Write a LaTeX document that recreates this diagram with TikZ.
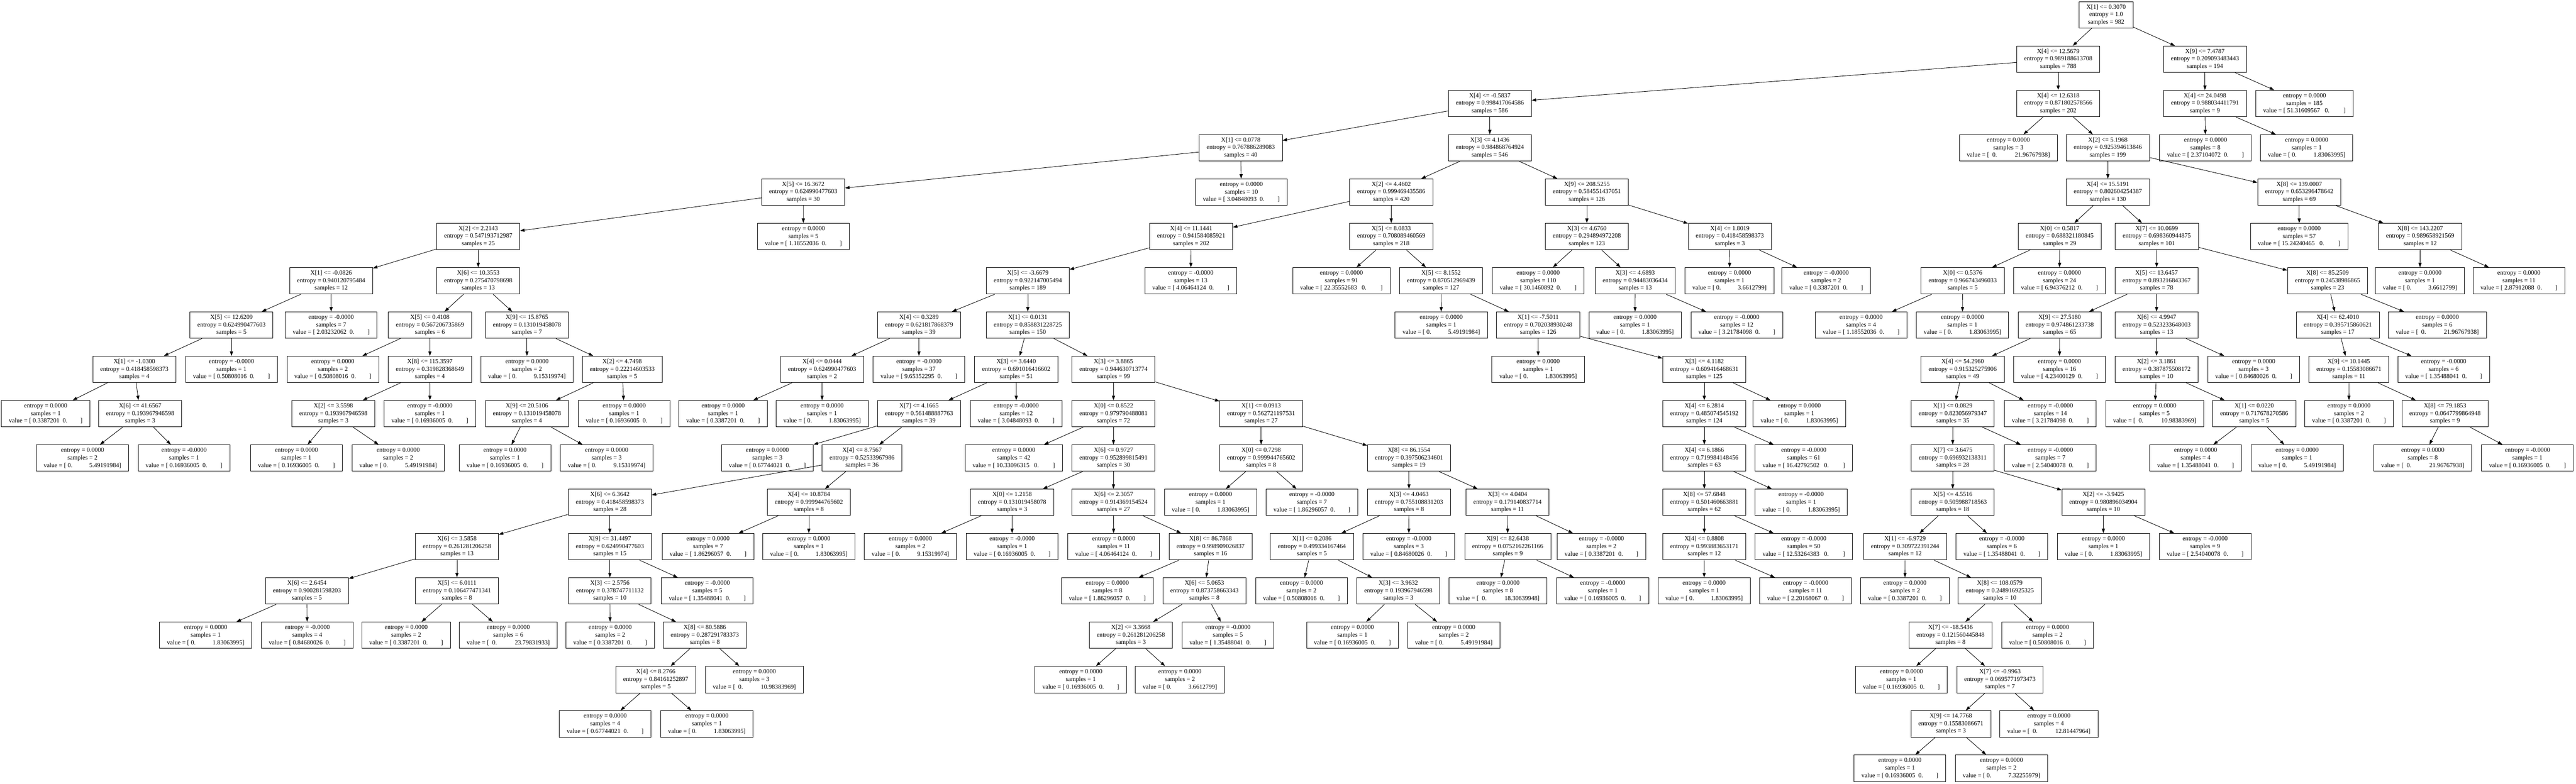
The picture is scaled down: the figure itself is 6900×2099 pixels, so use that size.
\documentclass[tikz,border=0pt]{standalone}
\usepackage{fontspec}
\setmainfont{Liberation Serif}
\usetikzlibrary{arrows.meta}
\newcommand\va[1]{value = [ #1\hspace{0.5em}0.\hspace{2.1em}]}
\newcommand\vaa[1]{value = [ #1\hspace{0.75em}0.\hspace{2.25em}]}
\newcommand\vb[1]{value = [ 0.\hspace{2.7em}#1]}
\newcommand\vbb[1]{value = [\hspace{0.5em}0.\hspace{2.85em}#1]}
\newcommand\tnI[7]{\node[tn] (#1) at (#2,#3) {X[#4] <= #5\\entropy = #6\\samples = #7};}
\newcommand\tnL[6]{\node[tn] (#1) at (#2,#3) {entropy = #4\\samples = #5\\#6};}
\tikzset{
  tn/.style={draw, line width=1.2pt, minimum height=71pt, inner xsep=20pt, inner ysep=0pt,
    align=center, font=\fontsize{16.8}{20.2}\selectfont},
  arr/.style={-{Triangle[length=12pt,width=8.4pt]}, line width=1.2pt}
}
\begin{document}
\begin{tikzpicture}[x=1pt,y=-1pt]
\fill[white] (0,0) rectangle (6900,2099);
\useasboundingbox (0,0) rectangle (6900,2099);
% row 0
\node[tn] (r0) at (5641.5,40) {X[1] <= 0.3070\\entropy = 1.0\\samples = 982};
% row 1
\tnI{a1}{5513}{158.7}{4}{12.5679}{0.989188613708}{788}
\tnI{b1}{5906}{158.7}{9}{7.4787}{0.209093483443}{194}
% row 2
\tnI{a2}{3990.5}{277.4}{4}{-0.5837}{0.998417064586}{586}
\tnI{b2}{5513}{277.4}{4}{12.6318}{0.871802578566}{202}
\tnI{c2}{5906}{277.4}{4}{24.0498}{0.988034411791}{9}
\tnL{d2}{6172.5}{277.4}{0.0000}{185}{\vaa{51.31609567}}
% row 3
\tnI{a3}{3323.5}{396.1}{1}{0.0778}{0.767886289083}{40}
\tnI{b3}{3990.5}{396.1}{3}{4.1436}{0.984868764924}{546}
\tnL{c3}{5379.5}{396.1}{0.0000}{3}{\vbb{21.96767938}}
\tnI{d3}{5646}{396.1}{2}{5.1968}{0.925394613846}{199}
\tnL{e3}{5907.5}{396.1}{0.0000}{8}{\va{2.37104072}}
\tnL{f3}{6178.5}{396.1}{0.0000}{1}{\vb{1.83063995}}
% row 4
\tnI{a4}{2151.5}{514.8}{5}{16.3672}{0.624990477603}{30}
\tnL{b4}{3325}{514.8}{0.0000}{10}{\va{3.04848093}}
\tnI{c4}{3726.5}{514.8}{2}{4.4602}{0.999469435586}{420}
\tnI{d4}{4250.5}{514.8}{9}{208.5255}{0.584551437051}{126}
\tnI{e4}{5646}{514.8}{4}{15.5191}{0.802604254387}{130}
\tnI{f4}{6158.5}{514.8}{8}{139.0007}{0.653296478642}{69}
% row 5
\tnI{a5}{1281}{633.5}{2}{2.2143}{0.547193712987}{25}
\tnL{b5}{2152}{633.5}{0.0000}{5}{\va{1.18552036}}
\tnI{c5}{3190.5}{633.5}{4}{11.1441}{0.941584085921}{202}
\tnI{d5}{3726.5}{633.5}{5}{8.0833}{0.708089460569}{218}
\tnI{e5}{4250.5}{633.5}{3}{4.6760}{0.294894972208}{123}
\tnI{f5}{4633.5}{633.5}{4}{1.8019}{0.418458598373}{3}
\tnI{g5}{5517}{633.5}{0}{0.5817}{0.688321180845}{29}
\tnI{h5}{5777}{633.5}{7}{10.0699}{0.698360944875}{101}
\tnL{i5}{6158.5}{633.5}{0.0000}{57}{\vaa{15.24240465}}
\tnI{j5}{6482.5}{633.5}{8}{143.2207}{0.989658921569}{12}
% row 6
\tnI{a6}{887}{752.2}{1}{-0.0826}{0.940120795484}{12}
\tnI{b6}{1281}{752.2}{6}{10.3553}{0.275470798698}{13}
\tnI{c6}{2753}{752.2}{5}{-3.6679}{0.922147005494}{189}
\tnL{d6}{3189.5}{752.2}{-0.0000}{13}{\va{4.06464124}}
\tnL{e6}{3593}{752.2}{0.0000}{91}{\vaa{22.35552683}}
\tnI{f6}{3860}{752.2}{5}{8.1552}{0.870512969439}{127}
\tnL{g6}{4120}{752.2}{0.0000}{110}{\va{30.1460892}}
\tnI{h6}{4380}{752.2}{3}{4.6893}{0.94483036434}{13}
\tnL{i6}{4632.5}{752.2}{0.0000}{1}{\vb{3.6612799}}
\tnL{j6}{4891.5}{752.2}{-0.0000}{2}{\va{0.3387201}}
\tnI{k6}{5257}{752.2}{0}{0.5376}{0.966743496033}{5}
\tnL{l6}{5516.5}{752.2}{0.0000}{24}{\va{6.94376212}}
\tnI{m6}{5776.5}{752.2}{5}{13.6457}{0.893216843367}{78}
\tnI{n6}{6234.5}{752.2}{8}{85.2509}{0.24538986865}{23}
\tnL{o6}{6482}{752.2}{0.0000}{1}{\vb{3.6612799}}
\tnL{p6}{6747}{752.2}{0.0000}{11}{\va{2.87912088}}
% row 7
\tnI{a7}{620}{870.9}{5}{12.6209}{0.624990477603}{5}
\tnL{b7}{887}{870.9}{-0.0000}{7}{\va{2.03232062}}
\tnI{c7}{1151.5}{870.9}{5}{0.4108}{0.567206735869}{6}
\tnI{d7}{1411.5}{870.9}{9}{15.8765}{0.131019458078}{7}
\tnI{e7}{2461.5}{870.9}{4}{0.3289}{0.621817868379}{39}
\tnI{f7}{2753}{870.9}{1}{0.0131}{0.858831228725}{150}
\tnL{g7}{3860.5}{870.9}{0.0000}{1}{\vb{5.49191984}}
\tnI{h7}{4120}{870.9}{1}{-7.5011}{0.702038930248}{126}
\tnL{i7}{4379.5}{870.9}{0.0000}{1}{\vb{1.83063995}}
\tnL{j7}{4652}{870.9}{-0.0000}{12}{\va{3.21784098}}
\tnL{k7}{4985}{870.9}{0.0000}{4}{\va{1.18552036}}
\tnL{l7}{5256.5}{870.9}{0.0000}{1}{\vb{1.83063995}}
\tnI{m7}{5517}{870.9}{9}{27.5180}{0.974861233738}{65}
\tnI{n7}{5776.5}{870.9}{6}{4.9947}{0.523233648003}{13}
\tnI{o7}{6262}{870.9}{4}{62.4010}{0.395715860621}{17}
\tnL{p7}{6528.5}{870.9}{0.0000}{6}{\vbb{21.96767938}}
% row 8
\tnI{a8}{360}{989.6}{1}{-1.0300}{0.418458598373}{4}
\tnL{b8}{620}{989.6}{-0.0000}{1}{\va{0.50808016}}
\tnL{c8}{891.5}{989.6}{0.0000}{2}{\va{0.50808016}}
\tnI{d8}{1151.5}{989.6}{8}{115.3597}{0.319828368649}{4}
\tnL{e8}{1411.5}{989.6}{0.0000}{2}{\vb{9.15319974}}
\tnI{f8}{1666.5}{989.6}{2}{4.7498}{0.22214603533}{5}
\tnI{g8}{2202}{989.6}{4}{0.0444}{0.624990477603}{2}
\tnL{h8}{2461.5}{989.6}{-0.0000}{37}{\va{9.65352295}}
\tnI{i8}{2722}{989.6}{3}{3.6440}{0.691016416602}{51}
\tnI{j8}{2982.5}{989.6}{3}{3.8865}{0.944630713774}{99}
\tnL{k8}{4120}{989.6}{0.0000}{1}{\vb{1.83063995}}
\tnI{l8}{4565}{989.6}{3}{4.1182}{0.609416468631}{125}
\tnI{m8}{5257}{989.6}{4}{54.2960}{0.915325275906}{49}
\tnL{n8}{5516.5}{989.6}{0.0000}{16}{\va{4.23400129}}
\tnI{o8}{5776.5}{989.6}{2}{3.1861}{0.387875508172}{10}
\tnL{p8}{6036.5}{989.6}{0.0000}{3}{\va{0.84680026}}
\tnI{q8}{6291.5}{989.6}{9}{10.1445}{0.15583086671}{11}
\tnL{r8}{6545.5}{989.6}{-0.0000}{6}{\va{1.35488041}}
% row 9
\tnL{a9}{122.5}{1108.3}{0.0000}{1}{\va{0.3387201}}
\tnI{b9}{375.5}{1108.3}{6}{41.6567}{0.193967946598}{3}
\tnI{c9}{893}{1108.3}{2}{3.5598}{0.193967946598}{3}
\tnL{d9}{1151.5}{1108.3}{-0.0000}{1}{\va{0.16936005}}
\tnI{e9}{1411.5}{1108.3}{9}{20.5106}{0.131019458078}{4}
\tnL{f9}{1672}{1108.3}{0.0000}{1}{\va{0.16936005}}
\tnL{g9}{1937}{1108.3}{0.0000}{1}{\va{0.3387201}}
\tnL{h9}{2202}{1108.3}{0.0000}{1}{\vb{1.83063995}}
\tnI{i9}{2461.5}{1108.3}{7}{4.1665}{0.561488887763}{39}
\tnL{j9}{2722}{1108.3}{-0.0000}{12}{\va{3.04848093}}
\tnI{k9}{2982.5}{1108.3}{0}{0.8522}{0.979790488081}{72}
\tnI{l9}{3378}{1108.3}{1}{0.0913}{0.562721197531}{27}
\tnI{m9}{4565}{1108.3}{4}{6.2814}{0.485074545192}{124}
\tnL{n9}{4819.5}{1108.3}{0.0000}{1}{\vb{1.83063995}}
\tnI{o9}{5230.5}{1108.3}{1}{0.0829}{0.823056979347}{35}
\tnL{p9}{5492}{1108.3}{-0.0000}{14}{\va{3.21784098}}
\tnL{q9}{5771.5}{1108.3}{0.0000}{5}{\vbb{10.98383969}}
\tnI{r9}{6038}{1108.3}{1}{0.0220}{0.717678270586}{5}
\tnL{s9}{6292}{1108.3}{0.0000}{2}{\va{0.3387201}}
\tnI{t9}{6549}{1108.3}{8}{79.1853}{0.0647799864948}{9}
% row 10
\tnL{a10}{221}{1227}{0.0000}{2}{\vb{5.49191984}}
\tnL{b10}{493}{1227}{-0.0000}{1}{\va{0.16936005}}
\tnL{c10}{794}{1227}{0.0000}{1}{\va{0.16936005}}
\tnL{d10}{1066.5}{1227}{0.0000}{2}{\vb{5.49191984}}
\tnL{e10}{1352.5}{1227}{0.0000}{1}{\va{0.16936005}}
\tnL{f10}{1625}{1227}{0.0000}{3}{\vb{9.15319974}}
\tnL{g10}{2055.5}{1227}{0.0000}{3}{\va{0.67744021}}
\tnI{h10}{2309}{1227}{4}{8.7567}{0.52533967986}{36}
\tnL{i10}{2715.5}{1227}{0.0000}{42}{\vaa{10.33096315}}
\tnI{j10}{2982.5}{1227}{6}{0.9727}{0.952899815491}{30}
\tnI{k10}{3378}{1227}{0}{0.7298}{0.999944765602}{8}
\tnI{l10}{3774}{1227}{8}{86.1554}{0.397506234601}{19}
\tnI{m10}{4565}{1227}{4}{6.1866}{0.719984148456}{63}
\tnL{n10}{4831.5}{1227}{-0.0000}{61}{\vaa{16.42792502}}
\tnI{o10}{5230.5}{1227}{7}{3.6475}{0.696932138311}{28}
\tnL{p10}{5492}{1227}{-0.0000}{7}{\va{2.54040078}}
\tnL{q10}{5881}{1227}{0.0000}{4}{\va{1.35488041}}
\tnL{r10}{6153}{1227}{0.0000}{1}{\vb{5.49191984}}
\tnL{s10}{6489.5}{1227}{0.0000}{8}{\vbb{21.96767938}}
\tnL{t10}{6770}{1227}{-0.0000}{1}{\va{0.16936005}}
% row 11
\tnI{a11}{1633.5}{1345.7}{6}{6.3642}{0.418458598373}{28}
\tnI{b11}{2166.5}{1345.7}{4}{10.8784}{0.999944765602}{8}
\tnI{c11}{2711}{1345.7}{0}{1.2158}{0.131019458078}{3}
\tnI{d11}{2982.5}{1345.7}{6}{2.3057}{0.914369154524}{27}
\tnL{e11}{3242.5}{1345.7}{0.0000}{1}{\vb{1.83063995}}
\tnL{f11}{3514}{1345.7}{-0.0000}{7}{\va{1.86296057}}
\tnI{g11}{3774}{1345.7}{3}{4.0463}{0.755108831203}{8}
\tnI{h11}{4038}{1345.7}{3}{4.0404}{0.179140837714}{11}
\tnI{i11}{4565}{1345.7}{8}{57.6848}{0.501460663881}{62}
\tnL{j11}{4824.5}{1345.7}{-0.0000}{1}{\vb{1.83063995}}
\tnI{k11}{5230.5}{1345.7}{5}{4.5516}{0.505988718563}{18}
\tnI{l11}{5634}{1345.7}{2}{-3.9425}{0.980896034904}{10}
% row 12
\tnI{a12}{1224}{1464.4}{6}{3.5858}{0.261281206258}{13}
\tnI{b12}{1633.5}{1464.4}{9}{31.4497}{0.624990477603}{15}
\tnL{c12}{1896.5}{1464.4}{0.0000}{7}{\va{1.86296057}}
\tnL{d12}{2166.5}{1464.4}{0.0000}{1}{\vb{1.83063995}}
\tnL{e12}{2438.5}{1464.4}{0.0000}{2}{\vb{9.15319974}}
\tnL{f12}{2711}{1464.4}{-0.0000}{1}{\va{0.16936005}}
\tnL{g12}{2983}{1464.4}{0.0000}{11}{\va{4.06464124}}
\tnI{h12}{3242.5}{1464.4}{8}{86.7868}{0.998909026837}{16}
\tnI{i12}{3514}{1464.4}{1}{0.2086}{0.499334167464}{5}
\tnL{j12}{3773.5}{1464.4}{-0.0000}{3}{\va{0.84680026}}
\tnI{k12}{4038.5}{1464.4}{9}{82.6438}{0.0752162261166}{9}
\tnL{l12}{4289.5}{1464.4}{-0.0000}{2}{\va{0.3387201}}
\tnI{m12}{4565}{1464.4}{4}{0.8808}{0.993883653171}{12}
\tnL{n12}{4831.5}{1464.4}{-0.0000}{50}{\vaa{12.53264383}}
\tnI{o12}{5103}{1464.4}{1}{-6.9729}{0.309722391244}{12}
\tnL{p12}{5362}{1464.4}{-0.0000}{6}{\va{1.35488041}}
\tnL{q12}{5634}{1464.4}{0.0000}{1}{\vb{1.83063995}}
\tnL{r12}{5906.5}{1464.4}{-0.0000}{9}{\va{2.54040078}}
% row 13
\tnI{a13}{822}{1583.1}{6}{2.6454}{0.900281598203}{5}
\tnI{b13}{1224}{1583.1}{5}{6.0111}{0.106477471341}{8}
\tnI{c13}{1633.5}{1583.1}{3}{2.5756}{0.378747711132}{10}
\tnL{d13}{1894.5}{1583.1}{-0.0000}{5}{\va{1.35488041}}
\tnL{e13}{2966}{1583.1}{0.0000}{8}{\va{1.86296057}}
\tnI{f13}{3226}{1583.1}{6}{5.0653}{0.873758663343}{8}
\tnL{g13}{3486}{1583.1}{0.0000}{2}{\va{0.50808016}}
\tnI{h13}{3745.5}{1583.1}{3}{3.9632}{0.193967946598}{3}
\tnL{i13}{4012.5}{1583.1}{0.0000}{8}{\vbb{18.30639948}}
\tnL{j13}{4293}{1583.1}{-0.0000}{1}{\va{0.16936005}}
\tnL{k13}{4564.5}{1583.1}{0.0000}{1}{\vb{1.83063995}}
\tnL{l13}{4836.5}{1583.1}{-0.0000}{11}{\va{2.20168067}}
\tnL{m13}{5102.5}{1583.1}{0.0000}{2}{\va{0.3387201}}
\tnI{n13}{5356.5}{1583.1}{8}{108.0579}{0.248916925325}{10}
% row 14
\tnL{a14}{551}{1701.8}{0.0000}{1}{\vb{1.83063995}}
\tnL{b14}{823}{1701.8}{-0.0000}{4}{\va{0.84680026}}
\tnL{c14}{1088}{1701.8}{0.0000}{2}{\va{0.3387201}}
\tnL{d14}{1361.5}{1701.8}{0.0000}{6}{\vbb{23.79831933}}
\tnL{e14}{1634.5}{1701.8}{0.0000}{2}{\va{0.3387201}}
\tnI{f14}{1888}{1701.8}{8}{80.5886}{0.287291783373}{8}
\tnI{g14}{3029}{1701.8}{2}{3.3668}{0.261281206258}{3}
\tnL{h14}{3289}{1701.8}{-0.0000}{5}{\va{1.35488041}}
\tnL{i14}{3622.5}{1701.8}{0.0000}{1}{\va{0.16936005}}
\tnL{j14}{3894}{1701.8}{0.0000}{2}{\vb{5.49191984}}
\tnI{k14}{5224.5}{1701.8}{7}{-18.5436}{0.121560445848}{8}
\tnL{l14}{5484.5}{1701.8}{0.0000}{2}{\va{0.50808016}}
% row 15
\tnI{a15}{1756.5}{1820.5}{4}{8.2766}{0.84161252897}{5}
\tnL{b15}{2020.5}{1820.5}{0.0000}{3}{\vbb{10.98383969}}
\tnL{c15}{2895}{1820.5}{0.0000}{1}{\va{0.16936005}}
\tnL{d15}{3160.5}{1820.5}{0.0000}{2}{\vb{3.6612799}}
\tnL{e15}{5093}{1820.5}{0.0000}{1}{\va{0.16936005}}
\tnI{f15}{5357}{1820.5}{7}{-0.9963}{0.0695771973473}{7}
% row 16
\tnL{a16}{1621}{1939.2}{0.0000}{4}{\va{0.67744021}}
\tnL{b16}{1893.5}{1939.2}{0.0000}{1}{\vb{1.83063995}}
\tnI{c16}{5225.5}{1939.2}{9}{14.7768}{0.15583086671}{3}
\tnL{d16}{5488}{1939.2}{0.0000}{4}{\vbb{12.81447964}}
% row 17
\tnL{a17}{5089}{2057.9}{0.0000}{1}{\va{0.16936005}}
\tnL{b17}{5361}{2057.9}{0.0000}{2}{\vb{7.32255979}}
% edges
\foreach \p/\c in {r0/a1,r0/b1,a1/a2,a1/b2,b1/c2,b1/d2,a2/a3,a2/b3,b2/c3,b2/d3,c2/e3,c2/f3,
  a3/a4,a3/b4,b3/c4,b3/d4,d3/e4,d3/f4,
  a4/a5,a4/b5,c4/c5,c4/d5,d4/e5,d4/f5,e4/g5,e4/h5,f4/i5,f4/j5,
  a5/a6,a5/b6,c5/c6,c5/d6,d5/e6,d5/f6,e5/g6,e5/h6,f5/i6,f5/j6,g5/k6,g5/l6,h5/m6,h5/n6,j5/o6,j5/p6,
  a6/a7,a6/b7,b6/c7,b6/d7,c6/e7,c6/f7,f6/g7,f6/h7,h6/i7,h6/j7,k6/k7,k6/l7,m6/m7,m6/n7,n6/o7,n6/p7,
  a7/a8,a7/b8,c7/c8,c7/d8,d7/e8,d7/f8,e7/g8,e7/h8,f7/i8,f7/j8,h7/k8,h7/l8,m7/m8,m7/n8,n7/o8,n7/p8,o7/q8,o7/r8,
  a8/a9,a8/b9,d8/c9,d8/d9,f8/e9,f8/f9,g8/g9,g8/h9,i8/i9,i8/j9,j8/k9,j8/l9,l8/m9,l8/n9,m8/o9,m8/p9,o8/q9,o8/r9,q8/s9,q8/t9,
  b9/a10,b9/b10,c9/c10,c9/d10,e9/e10,e9/f10,i9/g10,i9/h10,k9/i10,k9/j10,l9/k10,l9/l10,m9/m10,m9/n10,o9/o10,o9/p10,r9/q10,r9/r10,t9/s10,t9/t10,
  h10/a11,h10/b11,j10/c11,j10/d11,k10/e11,k10/f11,l10/g11,l10/h11,m10/i11,m10/j11,o10/k11,o10/l11,
  a11/a12,a11/b12,b11/c12,b11/d12,c11/e12,c11/f12,d11/g12,d11/h12,g11/i12,g11/j12,h11/k12,h11/l12,i11/m12,i11/n12,k11/o12,k11/p12,l11/q12,l11/r12,
  a12/a13,a12/b13,b12/c13,b12/d13,h12/e13,h12/f13,i12/g13,i12/h13,k12/i13,k12/j13,m12/k13,m12/l13,o12/m13,o12/n13,
  a13/a14,a13/b14,b13/c14,b13/d14,c13/e14,c13/f14,f13/g14,f13/h14,h13/i14,h13/j14,n13/k14,n13/l14,
  f14/a15,f14/b15,g14/c15,g14/d15,k14/e15,k14/f15,
  a15/a16,a15/b16,f15/c16,f15/d16,
  c16/a17,c16/b17}
  \draw[arr] (\p) -- (\c);
\end{tikzpicture}
\end{document}
